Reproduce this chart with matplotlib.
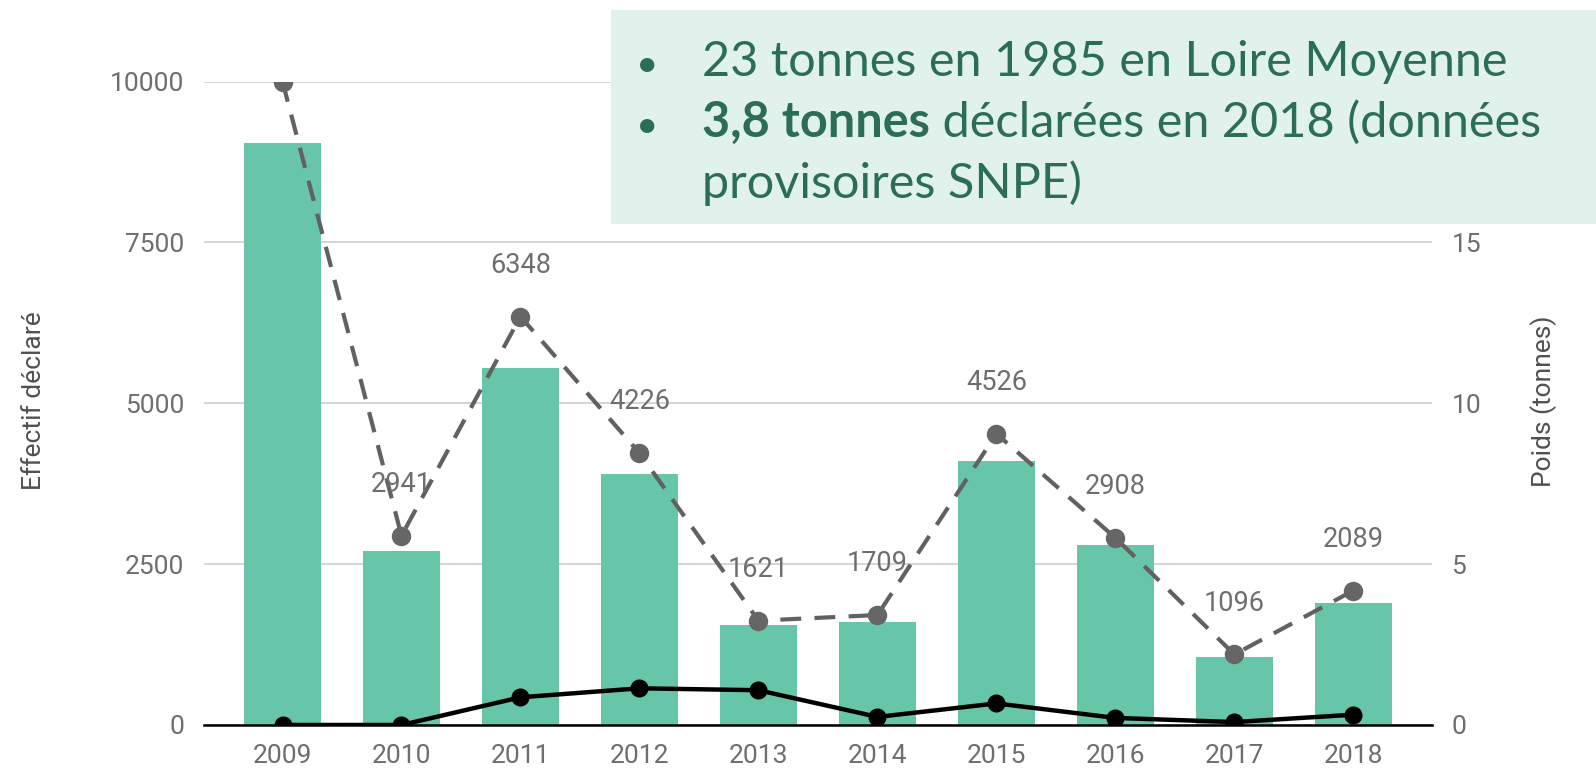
import matplotlib.pyplot as plt
from matplotlib.patches import Rectangle

years = ['2009', '2010', '2011', '2012', '2013', '2014', '2015', '2016', '2017', '2018']
poids_tonnes = [18.1, 5.4, 11.1, 7.8, 3.1, 3.2, 8.2, 5.6, 2.1, 3.8]
effectif_declare = [10000, 2941, 6348, 4226, 1621, 1709, 4526, 2908, 1096, 2089]
effectif_autre = [0, 0, 430, 570, 540, 125, 335, 110, 45, 160]
poids_ticks = [0, 5, 10, 15, 20]
poids_ticklabels = ['0', '5', '10', '15', '']  # 20 sits under the info box

BAR_COLOR = '#68c6a8'
GREY_TEXT = '#6e6e6e'
BOX_BG = '#e1f2ec'
BOX_TEXT = '#2c6e55'

plt.rcParams['font.family'] = ['Roboto', 'DejaVu Sans']

fig = plt.figure(figsize=(15.96, 7.71), dpi=100)
ax = fig.add_axes([0.1278, 0.0597, 0.7694, 0.8345])
ax2 = ax.twinx()

x = list(range(len(years)))

# Bars (weight) on the right axis, drawn underneath the lines
ax2.bar(x, poids_tonnes, width=0.65, color=BAR_COLOR, zorder=2)
ax2.set_ylim(0, 20)
ax2.set_yticks(poids_ticks)
ax2.set_yticklabels(poids_ticklabels)
ax2.grid(axis='y', color='#d2d2d2', linewidth=1.3, zorder=0)
ax2.set_axisbelow(True)

ax.set_zorder(ax2.get_zorder() + 1)
ax.patch.set_visible(False)

# Lines (counts) on the left axis
ax.plot(x, effectif_declare, color='#616161', linestyle=(0, (5, 3.2)), linewidth=3,
        marker='o', markersize=13, markerfacecolor='#666666', markeredgecolor='#666666', zorder=4)
ax.plot(x, effectif_autre, color='black', linewidth=3.2,
        marker='o', markersize=12, markerfacecolor='black', zorder=5)
ax.set_ylim(0, 10000)
ax.set_yticks([0, 2500, 5000, 7500, 10000])
ax.set_xlim(-0.66, 9.66)
ax.set_xticks(x)
ax.set_xticklabels(years)

for xi, v in zip(x, effectif_declare):
    if v < 10000:
        ax.annotate(str(v), (xi, v), xytext=(0, 37), textcoords='offset points',
                    ha='center', va='center', fontsize=19.5, color=GREY_TEXT, zorder=6)

for a in (ax, ax2):
    for s in ['top', 'left', 'right', 'bottom']:
        a.spines[s].set_visible(False)
    a.tick_params(length=0, labelsize=19, labelcolor=GREY_TEXT)
ax.spines['bottom'].set_visible(True)
ax.spines['bottom'].set_color('black')
ax.spines['bottom'].set_linewidth(1.8)
ax.tick_params(axis='x', pad=14)
ax.tick_params(axis='y', pad=14)
ax2.tick_params(axis='y', pad=14)

fig.text(0.021, 0.48, 'Effectif déclaré', rotation=90, ha='center', va='center',
         fontsize=19, color='#505050')
fig.text(0.967, 0.48, 'Poids (tonnes)', rotation=90, ha='center', va='center',
         fontsize=19, color='#505050')

# Info box at top right
fig.patches.append(Rectangle((611 / 1596, 1 - 224 / 771), 985 / 1596, 214 / 771,
                             transform=fig.transFigure, facecolor=BOX_BG,
                             edgecolor='none', zorder=10))
box_font = ['Lato', 'DejaVu Sans']
bullet_x = 0.3985
text_x = 0.44
line_y = [1 - 76 / 771, 1 - 137 / 771, 1 - 198 / 771]
fs = 35
fig.text(bullet_x, line_y[0], '•', fontsize=28, color=BOX_TEXT, va='baseline', family=box_font, zorder=11)
fig.text(bullet_x, line_y[1], '•', fontsize=28, color=BOX_TEXT, va='baseline', family=box_font, zorder=11)
fig.text(text_x, line_y[0], '23 tonnes en 1985 en Loire Moyenne', fontsize=fs, color=BOX_TEXT,
         va='baseline', family=box_font, zorder=11)
bold = fig.text(text_x, line_y[1], '3,8 tonnes', fontsize=fs, color=BOX_TEXT, fontweight='bold',
                va='baseline', family=box_font, zorder=11)
renderer = fig.canvas.get_renderer()
bb = bold.get_window_extent(renderer=renderer)
fig.text(bb.x1 / fig.bbox.width, line_y[1], ' déclarées en 2018 (données', fontsize=fs,
         color=BOX_TEXT, va='baseline', family=box_font, zorder=11)
fig.text(text_x, line_y[2], 'provisoires SNPE)', fontsize=fs, color=BOX_TEXT,
         va='baseline', family=box_font, zorder=11)

fig.savefig('out.png', dpi=100)
